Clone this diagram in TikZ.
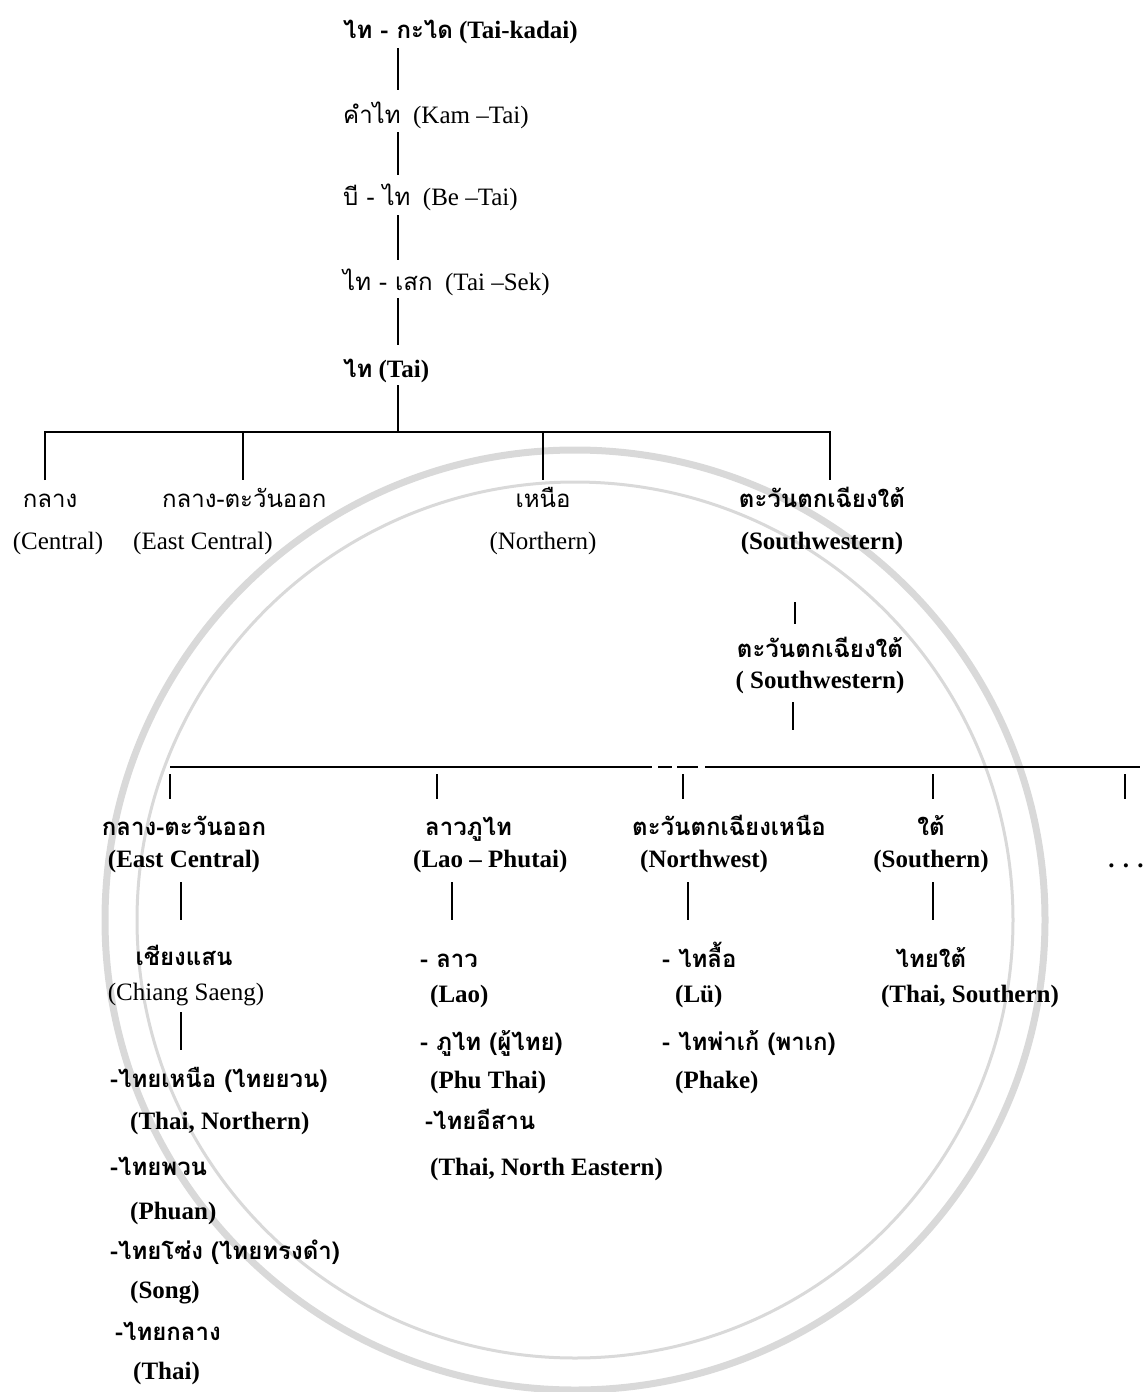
\documentclass[tikz,border=0pt]{standalone}
\usepackage{fontspec}
\setmainfont{Liberation Serif}
\newfontfamily\thfont[Script=Thai]{Loma}
\newcommand\TT[1]{{\thfont\fontsize{24}{27}\selectfont #1}}
\newcommand\TB[1]{{\thfont\bfseries\fontsize{24}{27}\selectfont #1}}
\begin{document}
\begin{tikzpicture}[x=1pt,y=-1pt,
  lb/.style={inner sep=0pt, anchor=west, text height=17pt, text depth=6pt, font=\fontsize{25}{28}\selectfont},
  lc/.style={lb, anchor=center},
  bf/.style={font=\fontsize{25}{28}\selectfont\bfseries},
  conn/.style={line width=1.8pt, black},
  ring/.style={draw=black!15, line width=7pt}]
\useasboundingbox (0,0) rectangle (1147,1392);
% faint seal rings in the background
\draw[ring] (575,920) circle (470);
\draw[ring, line width=3pt] (575,920) circle (438);
% ---- top chain
\node[lb,bf] (t1) at (343,33) {\TB{ไท - กะได} (Tai-kadai)};
\node[lb] (t2) at (343,118) {\TT{คำไท}\ \ (Kam –Tai)};
\node[lb] (t3) at (343,200) {\TT{บี - ไท}\ \ (Be –Tai)};
\node[lb] (t4) at (343,285) {\TT{ไท - เสก}\ \ (Tai –Sek)};
\node[lb,bf] (t5) at (343,372) {\TB{ไท} (Tai)};
\coordinate (a1) at (398,48);  \coordinate (b1) at (398,90);
\coordinate (a2) at (398,132); \coordinate (b2) at (398,175);
\coordinate (a3) at (398,215); \coordinate (b3) at (398,260);
\coordinate (a4) at (398,298); \coordinate (b4) at (398,345);
\coordinate (a5) at (398,385); \coordinate (h0) at (398,432);
\draw[conn] (a1) -- (b1);
\draw[conn] (a2) -- (b2);
\draw[conn] (a3) -- (b3);
\draw[conn] (a4) -- (b4);
\draw[conn] (a5) -- (h0);
% ---- first bar
\coordinate (hL) at (45,432); \coordinate (hR) at (830,432);
\coordinate (d1) at (45,480); \coordinate (d2) at (243,480);
\coordinate (d3) at (543,480); \coordinate (d4) at (830,480);
\draw[conn] (d1) -- (hL) -- (hR) -- (d4);
\draw[conn] (243,432) -- (d2);
\draw[conn] (543,432) -- (d3);
\node[lc] (c1a) at (50,502) {\TT{กลาง}};
\node[lc] (c1b) at (58,544) {(Central)};
\node[lb] (c2a) at (162,502) {\TT{กลาง-ตะวันออก}};
\node[lb] (c2b) at (133,544) {(East Central)};
\node[lc] (c3a) at (543,502) {\TT{เหนือ}};
\node[lc] (c3b) at (543,544) {(Northern)};
\node[lc] (c4a) at (822,502) {\TB{ตะวันตกเฉียงใต้}};
\node[lc,bf] (c4b) at (822,544) {(Southwestern)};
\coordinate (e1) at (795,602); \coordinate (e2) at (795,624);
\draw[conn] (e1) -- (e2);
\node[lc] (s1a) at (820,652) {\TB{ตะวันตกเฉียงใต้}};
\node[lc,bf] (s1b) at (820,683) {( Southwestern)};
\coordinate (e3) at (793,702); \coordinate (e4) at (793,730);
\draw[conn] (e3) -- (e4);
% ---- second bar
\coordinate (gL) at (170,767); \coordinate (gR) at (1140,767);
\draw[conn] (gL) -- (652,767);
\draw[conn] (658,767) -- (672,767);
\draw[conn] (677,767) -- (698,767);
\draw[conn] (705,767) -- (gR);
\foreach \xx/\nm in {170/p1,437/p2,683/p3,933/p4,1125/p5}{
  \coordinate (\nm u) at (\xx,774); \coordinate (\nm d) at (\xx,799);
  \draw[conn] (\nm u) -- (\nm d);}
% column 1
\node[lc] (k1a) at (184,830) {\TB{กลาง-ตะวันออก}};
\node[lc,bf] (k1b) at (184,862) {(East Central)};
\draw[conn] (181,882) -- (181,920);
\node[lc] (k1c) at (184,960) {\TB{เชียงแสน}};
\node[lc] (k1d) at (186,995) {(Chiang Saeng)};
\draw[conn] (181,1012) -- (181,1050);
\node[lb] (k1e) at (110,1082) {\TB{-ไทยเหนือ (ไทยยวน)}};
\node[lb,bf] (k1f) at (130,1124) {(Thai, Northern)};
\node[lb] (k1g) at (110,1170) {\TB{-ไทยพวน}};
\node[lb,bf] (k1h) at (130,1214) {(Phuan)};
\node[lb] (k1i) at (110,1254) {\TB{-ไทยโซ่ง (ไทยทรงดำ)}};
\node[lb,bf] (k1j) at (130,1293) {(Song)};
\node[lb] (k1k) at (115,1335) {\TB{-ไทยกลาง}};
\node[lb,bf] (k1l) at (133,1374) {(Thai)};
% column 2
\node[lb] (k2a) at (425,830) {\TB{ลาวภูไท}};
\node[lb,bf] (k2b) at (413,862) {(Lao – Phutai)};
\draw[conn] (452,882) -- (452,920);
\node[lb] (k2c) at (420,962) {\TB{- ลาว}};
\node[lb,bf] (k2d) at (430,997) {(Lao)};
\node[lb] (k2e) at (420,1045) {\TB{- ภูไท (ผู้ไทย)}};
\node[lb,bf] (k2f) at (430,1083) {(Phu Thai)};
\node[lb] (k2g) at (425,1124) {\TB{-ไทยอีสาน}};
\node[lb,bf] (k2h) at (430,1170) {(Thai, North Eastern)};
% column 3
\node[lb] (k3a) at (632,830) {\TB{ตะวันตกเฉียงเหนือ}};
\node[lb,bf] (k3b) at (640,862) {(Northwest)};
\draw[conn] (688,882) -- (688,920);
\node[lb] (k3c) at (662,962) {\TB{- ไทลื้อ}};
\node[lb,bf] (k3d) at (675,997) {(Lü)};
\node[lb] (k3e) at (662,1045) {\TB{- ไทพ่าเก้ (พาเก)}};
\node[lb,bf] (k3f) at (675,1083) {(Phake)};
% column 4
\node[lc] (k4a) at (931,830) {\TB{ใต้}};
\node[lc,bf] (k4b) at (931,862) {(Southern)};
\draw[conn] (933,882) -- (933,920);
\node[lc] (k4c) at (931,962) {\TB{ไทยใต้}};
\node[lc,bf] (k4d) at (970,997) {(Thai, Southern)};
% column 5
\node[lc,bf] (k5a) at (1126,862) {. . .};
\end{tikzpicture}
\end{document}
